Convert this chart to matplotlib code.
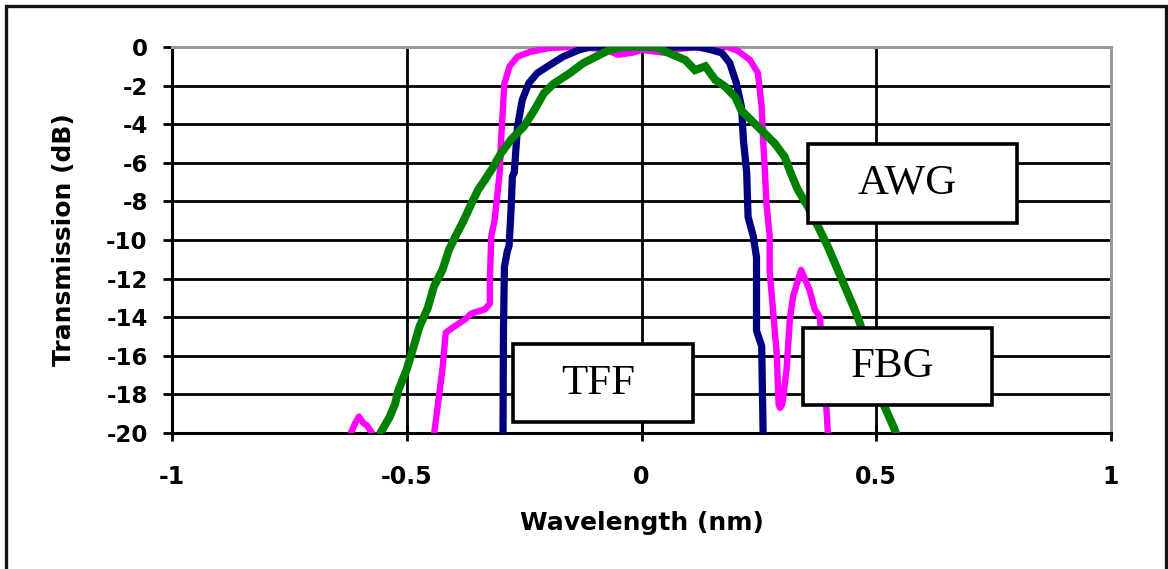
import matplotlib
matplotlib.use("Agg")
import matplotlib.pyplot as plt
from matplotlib.patches import Rectangle

# ---------------- data ----------------
tff_x = [-0.297, -0.295, -0.294, -0.292, -0.286, -0.282, -0.278, -0.275, -0.271,
         -0.264, -0.254, -0.240, -0.222, -0.195, -0.167, -0.133, -0.110, 0.0,
         0.120, 0.141, 0.171, 0.188, 0.202, 0.213, 0.217, 0.224, 0.227, 0.238,
         0.245, 0.245, 0.256, 0.259, 0.260]
tff_y = [-21.0, -20.0, -14.7, -11.4, -10.6, -10.3, -8.5, -6.7, -6.5,
         -4.1, -2.75, -1.87, -1.35, -0.93, -0.5, -0.15, 0.0, 0.0,
         0.0, -0.1, -0.3, -0.83, -1.87, -3.1, -4.8, -6.5, -8.8, -9.8,
         -10.9, -14.7, -15.5, -20.0, -21.0]

fbg_x = [-0.625, -0.619, -0.610, -0.602, -0.592, -0.585, -0.574, -0.560, -0.460,
         -0.4415, -0.424, -0.417, -0.400, -0.375, -0.362, -0.334, -0.323, -0.323,
         -0.320, -0.313, -0.302, -0.299, -0.295, -0.292, -0.281, -0.264, -0.237,
         -0.195, -0.150, -0.080, -0.050, -0.020, 0.0, 0.050, 0.080, 0.120,
         0.184, 0.205, 0.231, 0.248, 0.256, 0.259, 0.263, 0.266, 0.273, 0.273,
         0.280, 0.288, 0.292, 0.295, 0.300, 0.309, 0.316, 0.323, 0.340, 0.358,
         0.369, 0.380, 0.387, 0.394, 0.397, 0.400]
fbg_y = [-21.0, -20.0, -19.5, -19.15, -19.5, -19.6, -20.0, -21.5, -21.5,
         -20.0, -16.7, -14.8, -14.5, -14.1, -13.8, -13.6, -13.3, -12.1,
         -9.8, -9.0, -6.5, -4.8, -3.1, -1.9, -1.0, -0.5, -0.25,
         -0.05, 0.0, -0.1, -0.4, -0.3, -0.15, -0.3, -0.1, 0.0,
         0.0, -0.2, -0.67, -1.35, -3.1, -4.8, -6.5, -8.1, -9.8, -11.6,
         -13.6, -15.9, -18.5, -18.7, -18.5, -16.7, -14.1, -12.9, -11.55, -12.6,
         -13.6, -14.0, -16.5, -18.8, -20.0, -21.0]

awg_x = [-0.562, -0.556, -0.536, -0.525, -0.518, -0.500, -0.490, -0.473, -0.455,
         -0.442, -0.424, -0.410, -0.396, -0.379, -0.362, -0.348, -0.334, -0.318,
         -0.299, -0.278, -0.250, -0.229, -0.208, -0.187, -0.153, -0.125, -0.097,
         -0.069, -0.040, 0.030, 0.057, 0.093, 0.114, 0.136, 0.157, 0.178, 0.200,
         0.213, 0.234, 0.255, 0.284, 0.305, 0.319, 0.333, 0.355, 0.376, 0.397,
         0.418, 0.440, 0.454, 0.465, 0.490, 0.517, 0.539, 0.545, 0.552]
awg_y = [-21.0, -20.0, -19.15, -18.5, -17.8, -16.7, -15.9, -14.5, -13.5,
         -12.4, -11.55, -10.5, -9.8, -9.0, -8.1, -7.4, -6.9, -6.3,
         -5.5, -4.8, -4.1, -3.3, -2.4, -1.9, -1.36, -0.85, -0.5,
         -0.16, 0.0, 0.0, -0.3, -0.67, -1.2, -1.0, -1.7, -2.05, -2.6,
         -3.3, -3.8, -4.3, -5.0, -5.7, -6.6, -7.4, -8.3, -9.3, -10.35,
         -11.55, -12.8, -13.6, -14.3, -16.4, -18.6, -19.8, -20.3, -21.0]

x_ticks = [-1, -0.5, 0, 0.5, 1]
x_tick_labels = ["-1", "-0.5", "0", "0.5", "1"]
y_ticks = [0, -2, -4, -6, -8, -10, -12, -14, -16, -18, -20]
y_tick_labels = ["0", "-2", "-4", "-6", "-8", "-10", "-12", "-14", "-16", "-18", "-20"]

labels = ["AWG", "FBG", "TFF"]

# ---------------- figure ----------------
fig = plt.figure(figsize=(11.68, 5.69), dpi=100)
ax = fig.add_axes([172 / 1168, 1 - 433 / 569, (1111 - 172) / 1168, (433 - 47) / 569])

ax.plot(fbg_x, fbg_y, color="#FF00FF", lw=4.6, solid_joinstyle="round", zorder=3)
ax.plot(tff_x, tff_y, color="#000080", lw=5.2, solid_joinstyle="round", zorder=3.1)
ax.plot(awg_x, awg_y, color="#008000", lw=5.8, solid_joinstyle="miter", zorder=3.2,
        marker="s", markersize=4.5, markeredgewidth=0)

ax.set_xlim(-1, 1)
ax.set_ylim(-20, 0)
ax.set_xticks(x_ticks)
ax.set_xticklabels(x_tick_labels)
ax.set_yticks(y_ticks)
ax.set_yticklabels(y_tick_labels)

ax.set_axisbelow(True)
ax.grid(True, color="black", lw=2.0)

for s in ["left", "bottom"]:
    ax.spines[s].set_color("black")
    ax.spines[s].set_linewidth(2.2)
for s in ["top", "right"]:
    ax.spines[s].set_color("#999999")
    ax.spines[s].set_linewidth(2.2)

ax.tick_params(axis="y", direction="out", length=6.5, width=2.0, pad=11, labelsize=16.5)
ax.tick_params(axis="x", direction="inout", length=12, width=2.0, pad=17, labelsize=17)
for t in ax.get_xticklabels() + ax.get_yticklabels():
    t.set_fontfamily("DejaVu Sans")
    t.set_fontweight("bold")

ax.set_xlabel("Wavelength (nm)", fontsize=18, fontweight="bold", family="DejaVu Sans", labelpad=16)
ax.set_ylabel("Transmission (dB)", fontsize=18, fontweight="bold", family="DejaVu Sans", labelpad=22)

# label boxes (data coordinates)
boxes = [(0.355, -9.10, 0.444, 4.07), (0.345, -18.55, 0.401, 3.98), (-0.273, -19.45, 0.383, 4.05)]
for (bx, by, bw, bh), name in zip(boxes, labels):
    ax.add_patch(Rectangle((bx, by), bw, bh, facecolor="white", edgecolor="black",
                           lw=2.6, zorder=5))
    ax.text(bx + bw / 2 - 0.01, by + bh / 2, name, ha="center", va="center",
            family="Liberation Serif", fontsize=31, zorder=6)

# outer frame
fig.add_artist(Rectangle((6 / 1168, -0.02), (1166 - 6) / 1168, 1 - 6 / 569 + 0.02,
                         transform=fig.transFigure, fill=False, edgecolor="#111111", lw=2.4))

fig.savefig("out.png", dpi=100)
